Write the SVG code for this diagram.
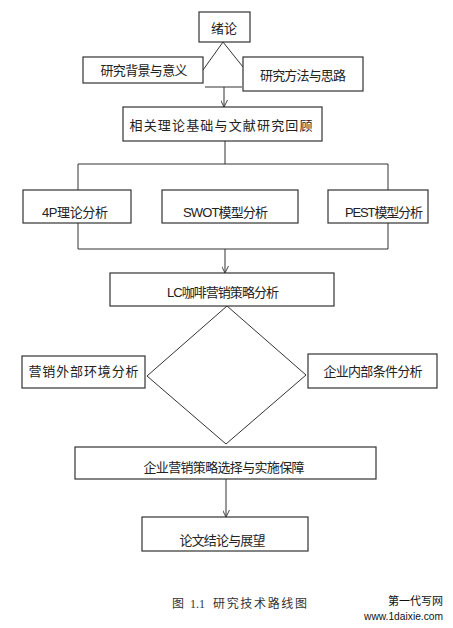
<svg xmlns="http://www.w3.org/2000/svg" width="453" height="628" viewBox="0 0 453 628">
<defs>
<style>
.box{fill:#fff;stroke:#333;stroke-width:1.2}
.ln{fill:none;stroke:#333;stroke-width:1}
.t{font-family:"Liberation Sans","Noto Sans CJK SC",sans-serif;font-size:13px;fill:#222;text-anchor:middle}
.cap{font-family:"Liberation Serif","Noto Sans CJK SC",serif;font-size:12px;fill:#333}
.wm{font-family:"Liberation Sans","Noto Sans CJK SC",sans-serif;font-size:11px;fill:#111;text-anchor:end}
</style>
<marker id="arr" viewBox="0 0 10 10" refX="10" refY="5" markerWidth="7" markerHeight="7" orient="auto" markerUnits="userSpaceOnUse">
<path d="M0,0 L10,5 L0,10" fill="none" stroke="#333" stroke-width="1.3"/>
</marker>
</defs>
<rect width="453" height="628" fill="#fff"/>
<g id="connectors">
<path class="ln" d="M223,42 L203,70"/>
<path class="ln" d="M223,42 L243,67"/>
<path class="ln" d="M205,87 L242,87"/>
<path class="ln" d="M224,87 L224,107" marker-end="url(#arr)"/>
<path class="ln" d="M225,141 L225,164 M78,164 L388,164"/>
<path class="ln" d="M78,164 L78,190 M388,164 L388,190"/>
<path class="ln" d="M78,223 L78,249 L388,249 L388,223"/>
<path class="ln" d="M225,249 L225,273" marker-end="url(#arr)"/>
<path class="ln" d="M227,306 L147,376 L226,444 L306,375 Z"/>
<path class="ln" d="M226,479 L226,517" marker-end="url(#arr)"/>
</g>
<g id="n_xulun"><rect class="box" x="199" y="12" width="51" height="30"/><text class="t" x="224" y="33">绪论</text></g>
<g id="n_beijing"><rect class="box" x="83" y="57" width="120" height="26"/><text class="t" x="144" y="75" textLength="87" lengthAdjust="spacing">研究背景与意义</text></g>
<g id="n_fangfa"><rect class="box" x="243" y="57" width="120" height="34"/><text class="t" x="303" y="80" textLength="86" lengthAdjust="spacing">研究方法与思路</text></g>
<g id="n_lilun"><rect class="box" x="123" y="107" width="199" height="34"/><text class="t" x="221" y="130" textLength="183" lengthAdjust="spacing">相关理论基础与文献研究回顾</text></g>
<g id="n_4p"><rect class="box" x="23" y="190" width="108" height="33"/><text class="t" x="75" y="217" textLength="66" lengthAdjust="spacing">4P理论分析</text></g>
<g id="n_swot"><rect class="box" x="162" y="190" width="136" height="33"/><text class="t" x="225.5" y="217" textLength="85" lengthAdjust="spacing">SWOT模型分析</text></g>
<g id="n_pest"><rect class="box" x="328" y="190" width="100" height="33"/><text class="t" x="384" y="217" textLength="78" lengthAdjust="spacing">PEST模型分析</text></g>
<g id="n_lc"><rect class="box" x="110" y="273" width="224" height="33"/><text class="t" x="223" y="297" textLength="112" lengthAdjust="spacing">LC咖啡营销策略分析</text></g>
<g id="n_waibu"><rect class="box" x="22" y="356" width="123" height="32"/><text class="t" x="83.5" y="376" textLength="110" lengthAdjust="spacing">营销外部环境分析</text></g>
<g id="n_neibu"><rect class="box" x="308" y="354" width="129" height="34"/><text class="t" x="373" y="376" textLength="99" lengthAdjust="spacing">企业内部条件分析</text></g>
<g id="n_celve"><rect class="box" x="75" y="447" width="301" height="32"/><text class="t" x="224" y="472" textLength="161" lengthAdjust="spacing">企业营销策略选择与实施保障</text></g>
<g id="n_jielun"><rect class="box" x="142" y="517" width="166" height="34"/><text class="t" x="222.5" y="545" textLength="86" lengthAdjust="spacing">论文结论与展望</text></g>
<text class="cap" y="608"><tspan x="172">图</tspan><tspan x="190">1.1</tspan><tspan x="213" textLength="94" lengthAdjust="spacing">研究技术路线图</tspan></text>
<text class="wm" x="443" y="605">第一代写网</text>
<text class="wm" x="443" y="620" textLength="79" lengthAdjust="spacingAndGlyphs">www.1daixie.com</text>
</svg>
